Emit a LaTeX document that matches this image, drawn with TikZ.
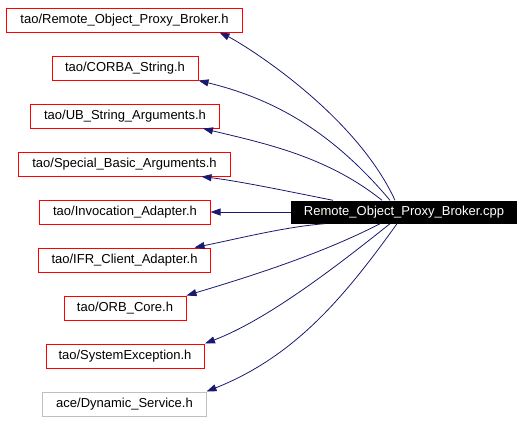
\documentclass[tikz,border=0pt]{standalone}
\usepackage{fontspec}
\setmainfont{Liberation Sans}
\usetikzlibrary{arrows.meta}
\definecolor{edgeblue}{HTML}{191970}
\definecolor{boxgrey}{HTML}{BFBFBF}
\begin{document}
\begin{tikzpicture}[x=1bp,y=-1bp,
  box/.style={draw=red,line width=1bp,minimum height=24bp,inner sep=0pt,font=\fontsize{13bp}{15bp}\selectfont},
  greybox/.style={box,draw=boxgrey},
  mainbox/.style={fill=black,text=white,minimum height=23bp,minimum width=226bp,inner sep=0pt,font=\fontsize{13bp}{15bp}\selectfont},
  edge/.style={draw=edgeblue,line width=0.8bp,-{Triangle[length=10bp,width=7bp]}}]
\useasboundingbox (0,0) rectangle (523,421);
\node[mainbox] (main) at (404,212) {Remote\_Object\_Proxy\_Broker.cpp};
\node[box,minimum width=235bp] (b1) at (124.5,20) {tao/Remote\_Object\_Proxy\_Broker.h};
\node[box,minimum width=146bp] (b2) at (125,68) {tao/CORBA\_String.h};
\node[box,minimum width=188bp] (b3) at (125,116) {tao/UB\_String\_Arguments.h};
\node[box,minimum width=211bp] (b4) at (124.5,164) {tao/Special\_Basic\_Arguments.h};
\node[box,minimum width=170bp] (b5) at (125,212) {tao/Invocation\_Adapter.h};
\node[box,minimum width=171bp] (b6) at (124.5,260) {tao/IFR\_Client\_Adapter.h};
\node[box,minimum width=122bp] (b7) at (125,308) {tao/ORB\_Core.h};
\node[box,minimum width=158bp] (b8) at (125,356) {tao/SystemException.h};
\node[greybox,minimum width=163bp] (b9) at (124.5,404) {ace/Dynamic\_Service.h};
\draw[edge] ([xshift=-9bp]main.north) .. controls +(-41,-89) and +(21,10) .. ([xshift=95bp]b1.south);
\draw[edge] ([xshift=-14bp]main.north) .. controls +(-59,-70) and +(74,18) .. (b2.south east);
\draw[edge] ([xshift=-22bp]main.north) .. controls +(-55,-44) and +(62,15) .. ([xshift=78bp]b3.south);
\draw[edge] ([xshift=-71bp]main.north) .. controls +(-40,-8) and +(40,5) .. ([xshift=77bp]b4.south);
\draw[edge] (main.west) -- (b5.east);
\draw[edge] ([xshift=-79bp]main.south) .. controls +(-40,3) and +(40,-8) .. ([xshift=70bp]b6.north);
\draw[edge] ([xshift=-24bp]main.south) .. controls +(-60,31) and +(60,-18) .. (b7.north east);
\draw[edge] ([xshift=-14bp]main.south) .. controls +(-60,48) and +(60,-23) .. ([xshift=80bp]b8.north);
\draw[edge] ([xshift=-7bp]main.south) .. controls +(-53,74) and +(88,-35) .. (b9.north east);
\end{tikzpicture}
\end{document}
